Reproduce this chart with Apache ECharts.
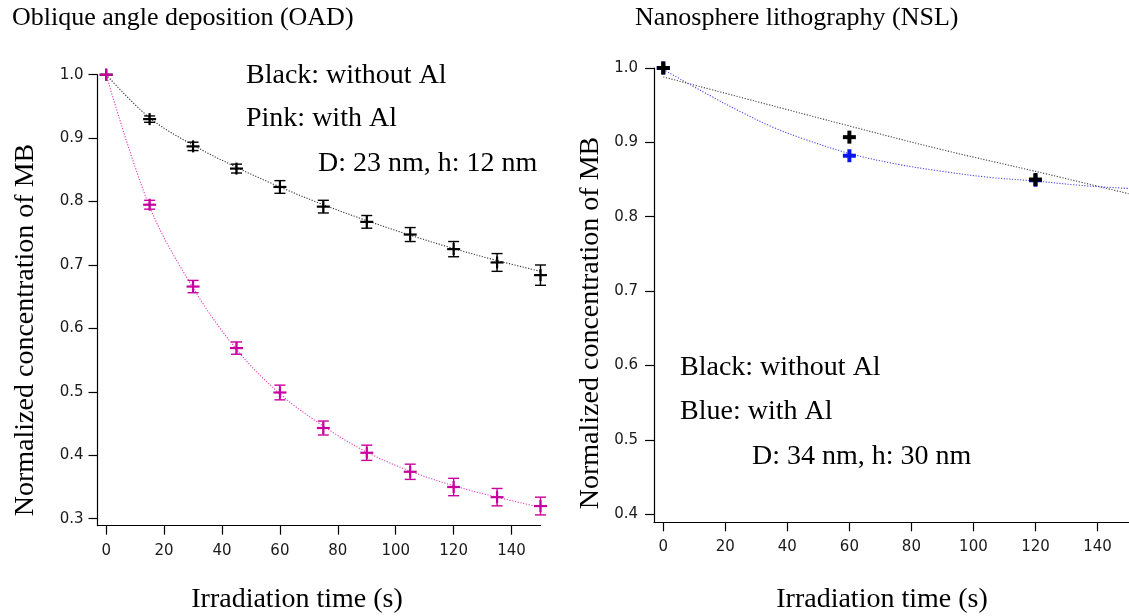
<!DOCTYPE html>
<html>
<head>
<meta charset="utf-8">
<title>MB degradation: OAD vs NSL</title>
<script src="https://cdn.jsdelivr.net/npm/echarts@6/dist/echarts.min.js"></script>
<style>
  html, body { margin: 0; padding: 0; background: #fff; }
  #chart { width: 1129px; height: 616px; }
</style>
</head>
<body>
<div id="chart"></div>
<script>
// ---- Oblique angle deposition (OAD) ----
const oadTimes = [0, 15, 30, 45, 60, 75, 90, 105, 120, 135, 150];
const oadWithoutAl = [1.0, 0.930, 0.887, 0.852, 0.823, 0.792, 0.768, 0.748, 0.725, 0.704, 0.684];
const oadWithoutAlErr = [0, 0.005, 0.0066, 0.007, 0.010, 0.010, 0.010, 0.011, 0.012, 0.014, 0.016];
const oadWithAl = [1.0, 0.795, 0.666, 0.569, 0.499, 0.443, 0.404, 0.374, 0.350, 0.334, 0.320];
const oadWithAlErr = [0, 0.007, 0.0097, 0.0097, 0.0116, 0.011, 0.012, 0.012, 0.0137, 0.0137, 0.014];
// fitted decay curves (dotted)
const oadFitTimes = [0, 15, 30, 45, 60, 75, 90, 105, 120, 135, 150];
const oadFitWithoutAl = [1.0, 0.932, 0.889, 0.854, 0.823, 0.795, 0.770, 0.747, 0.726, 0.707, 0.690];
const oadFitWithAl = [1.0, 0.792, 0.664, 0.567, 0.497, 0.446, 0.405, 0.375, 0.352, 0.334, 0.318];

// ---- Nanosphere lithography (NSL) ----
const nslTimes = [0, 60, 120];
const nslWithoutAl = [1.0, 0.907, 0.850];
const nslWithAl = [1.0, 0.882, 0.849];
const nslFitTimesWithoutAl = [0, 30, 60, 90, 120, 150];
const nslFitWithoutAl = [0.988, 0.955, 0.922, 0.890, 0.861, 0.831];
const nslFitTimesWithAl = [0, 15, 25, 35, 45, 60, 75, 90, 105, 120, 135, 150];
const nslFitWithAl = [0.998, 0.963, 0.941, 0.921, 0.905, 0.885, 0.871, 0.861, 0.853, 0.848, 0.842, 0.838];

// ---- tick labels ----
const xTicks = [0, 20, 40, 60, 80, 100, 120, 140];
const oadYTicks = [0.3, 0.4, 0.5, 0.6, 0.7, 0.8, 0.9, 1.0];
const nslYTicks = [0.4, 0.5, 0.6, 0.7, 0.8, 0.9, 1.0];

const SERIF = 'Liberation Serif';
const SANS = 'DejaVu Sans';
const PINK = '#c8009e';
const BLUE = '#0a14f0';

const zip = (xs, ys, es) => xs.map((x, i) => es ? [x, ys[i], es[i]] : [x, ys[i]]);

// Draws a "+" marker with an optional capped vertical error bar.
function markerRenderer(color, opt) {
  return function (params, api) {
    const x = api.value(0), y = api.value(1), e = api.value(2) || 0;
    const c = api.coord([x, y]);
    const kids = [];
    if (e > 0) {
      const hi = api.coord([x, y + e])[1];
      const lo = api.coord([x, y - e])[1];
      const lw = 1.4, cw = opt.cap;
      kids.push({ type: 'line', shape: { x1: c[0], y1: hi, x2: c[0], y2: lo }, style: { stroke: color, lineWidth: lw } });
      kids.push({ type: 'line', shape: { x1: c[0] - cw, y1: hi, x2: c[0] + cw, y2: hi }, style: { stroke: color, lineWidth: lw } });
      kids.push({ type: 'line', shape: { x1: c[0] - cw, y1: lo, x2: c[0] + cw, y2: lo }, style: { stroke: color, lineWidth: lw } });
    }
    kids.push({ type: 'line', shape: { x1: c[0] - opt.arm, y1: c[1], x2: c[0] + opt.arm, y2: c[1] }, style: { stroke: color, lineWidth: opt.width } });
    kids.push({ type: 'line', shape: { x1: c[0], y1: c[1] - opt.armV, x2: c[0], y2: c[1] + opt.armV }, style: { stroke: color, lineWidth: opt.width } });
    return { type: 'group', children: kids };
  };
}

function xAxisCfg(gridIndex, labelMargin) {
  return {
    type: 'value', gridIndex, min: -3, max: 150,
    axisLine: { show: true, onZero: false, lineStyle: { color: '#000', width: 1.2 } },
    axisTick: { show: true, length: 9, inside: false, customValues: xTicks, lineStyle: { color: '#000', width: 1.2 } },
    axisLabel: { customValues: xTicks, margin: labelMargin, color: '#1a1a1a', fontFamily: SANS, fontSize: 15 },
    splitLine: { show: false }
  };
}
function yAxisCfg(gridIndex, min, ticks, labelMargin) {
  return {
    type: 'value', gridIndex, min, max: 1.0,
    axisLine: { show: true, onZero: false, lineStyle: { color: '#000', width: 1.2 } },
    axisTick: { show: true, length: 9, inside: false, customValues: ticks, lineStyle: { color: '#000', width: 1.2 } },
    axisLabel: { customValues: ticks, margin: labelMargin, color: '#1a1a1a', fontFamily: SANS, fontSize: 15,
                 formatter: v => v.toFixed(1) },
    splitLine: { show: false }
  };
}

function fitLine(xIdx, data, color, z) {
  return {
    type: 'line', xAxisIndex: xIdx, yAxisIndex: xIdx, data, smooth: 0.35,
    showSymbol: false, silent: true, z,
    lineStyle: { color, width: 1.1, type: [1.2, 1.6] }
  };
}
function markers(xIdx, data, color, opt, z) {
  return {
    type: 'custom', xAxisIndex: xIdx, yAxisIndex: xIdx, data, z,
    renderItem: markerRenderer(color, opt), clip: false, silent: true
  };
}

// Serif text anchored at (x, y); y is the vertical middle of the line.
function txt(text, x, y, size, align, rotation) {
  return {
    type: 'text', x, y, rotation: rotation || 0,
    style: { text, fontFamily: SERIF, fontSize: size, fill: '#000',
             textAlign: align || 'left', textVerticalAlign: 'middle' }
  };
}

const thin = { arm: 6.5, armV: 6, width: 2.2, cap: 5.5 };
const bold = { arm: 6.5, armV: 6.5, width: 4, cap: 0 };

const chart = echarts.init(document.getElementById('chart'), null, { renderer: 'canvas' });
chart.setOption({
  backgroundColor: '#fff',
  animation: false,
  grid: [
    { left: 97.5, top: 74.7, width: 443, height: 451 },
    { left: 654, top: 68, width: 474.5, height: 454.3 }
  ],
  xAxis: [xAxisCfg(0, 18), xAxisCfg(1, 17)],
  yAxis: [yAxisCfg(0, 0.289, oadYTicks, 14), yAxisCfg(1, 0.389, nslYTicks, 16)],
  series: [
    fitLine(0, zip(oadFitTimes, oadFitWithoutAl), '#333', 2),
    fitLine(0, zip(oadFitTimes, oadFitWithAl), '#e040c0', 2),
    markers(0, zip(oadTimes, oadWithoutAl, oadWithoutAlErr), '#000', thin, 5),
    markers(0, zip(oadTimes, oadWithAl, oadWithAlErr), PINK, thin, 6),
    fitLine(1, zip(nslFitTimesWithoutAl, nslFitWithoutAl), '#444', 2),
    fitLine(1, zip(nslFitTimesWithAl, nslFitWithAl), '#4a4ae8', 2),
    markers(1, zip(nslTimes, nslWithAl), BLUE, bold, 5),
    markers(1, zip(nslTimes, nslWithoutAl), '#000', bold, 6)
  ],
  graphic: [
    txt('Oblique angle deposition (OAD)', 12, 18, 26),
    txt('Nanosphere lithography (NSL)', 635, 18, 26),
    txt('Black: without Al', 246, 76, 28),
    txt('Pink: with Al', 246, 119, 28),
    txt('D: 23 nm, h: 12 nm', 318, 164, 28),
    txt('Black: without Al', 680, 368, 28),
    txt('Blue: with Al', 680, 412, 28),
    txt('D: 34 nm, h: 30 nm', 752, 457, 28),
    txt('Irradiation time (s)', 297, 600, 28, 'center'),
    txt('Irradiation time (s)', 882, 600, 28, 'center'),
    txt('Normalized concentration of MB', 26, 330, 28, 'center', Math.PI / 2),
    txt('Normalized concentration of MB', 591, 323, 28, 'center', Math.PI / 2)
  ]
});
</script>
</body>
</html>
